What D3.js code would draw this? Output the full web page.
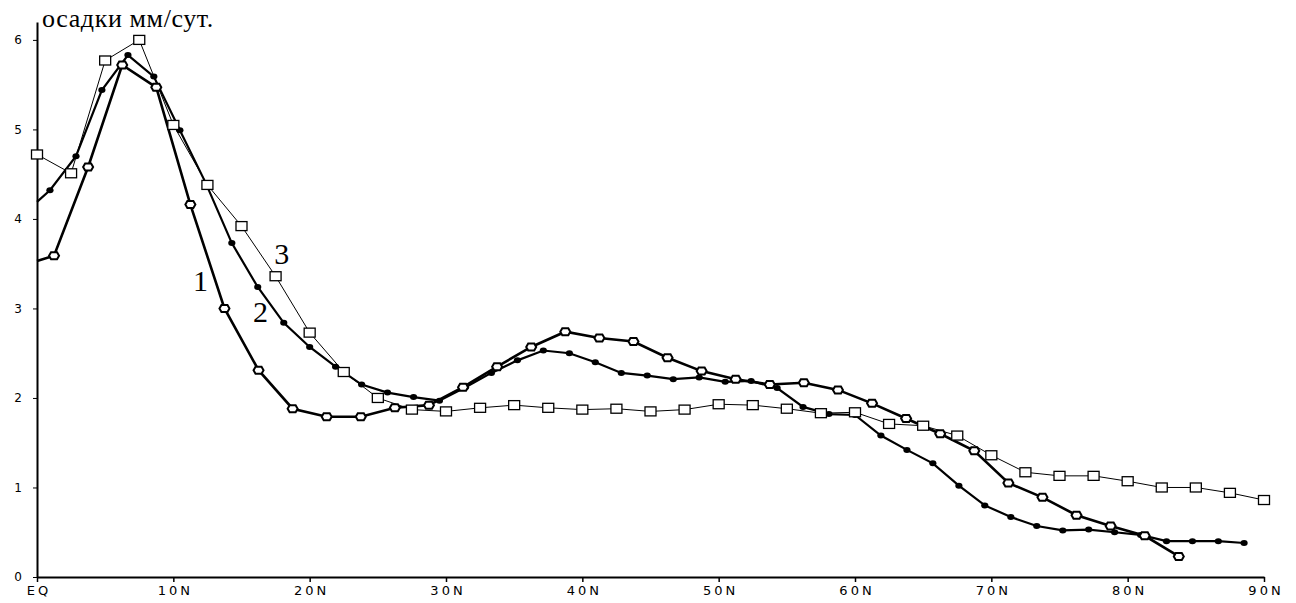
<!DOCTYPE html>
<html>
<head>
<meta charset="utf-8">
<script src="https://cdn.jsdelivr.net/npm/d3@7"></script>
<style>
  body { margin: 0; background: #fff; }
  .tick text { font-family: "DejaVu Sans", sans-serif; }
</style>
</head>
<body>
<div id="chart"></div>
<script>
// latitudes (deg N) and precipitation (mm/day)
const lat1 = [0, 1.25, 3.75, 6.25, 8.75, 11.25, 13.75, 16.25, 18.75, 21.25, 23.75, 26.25, 28.75,
  31.25, 33.75, 36.25, 38.75, 41.25, 43.75, 46.25, 48.75, 51.25, 53.75, 56.25, 58.75, 61.25,
  63.75, 66.25, 68.75, 71.25, 73.75, 76.25, 78.75, 81.25, 83.75];
const rain1 = [3.53, 3.59, 4.58, 5.72, 5.47, 4.16, 3.0, 2.31, 1.88, 1.79, 1.79, 1.89, 1.92,
  2.12, 2.35, 2.57, 2.74, 2.67, 2.63, 2.45, 2.30, 2.21, 2.15, 2.17, 2.09, 1.94,
  1.77, 1.60, 1.41, 1.05, 0.89, 0.69, 0.57, 0.46, 0.23];

const lat2 = [0, 0.95, 2.86, 4.76, 6.67, 8.57, 10.48, 12.38, 14.29, 16.19, 18.10, 20.0, 21.9,
  23.81, 25.71, 27.62, 29.52, 31.43, 33.33, 35.24, 37.14, 39.05, 40.95, 42.86, 44.76, 46.67,
  48.57, 50.48, 52.38, 54.29, 56.19, 58.09, 60.0, 61.9, 63.81, 65.71, 67.62, 69.52, 71.43,
  73.33, 75.24, 77.14, 79.04, 80.95, 82.85, 84.75, 86.65, 88.54];
const rain2 = [4.19, 4.32, 4.70, 5.44, 5.83, 5.59, 4.99, 4.40, 3.73, 3.24, 2.84, 2.57, 2.35,
  2.15, 2.06, 2.01, 1.97, 2.12, 2.28, 2.42, 2.53, 2.50, 2.40, 2.28, 2.25, 2.21,
  2.23, 2.18, 2.19, 2.11, 1.90, 1.82, 1.81, 1.58, 1.42, 1.27, 1.02, 0.80, 0.67,
  0.57, 0.52, 0.53, 0.50, 0.47, 0.40, 0.40, 0.40, 0.38];

const lat3 = [0, 2.5, 5, 7.5, 10, 12.5, 15, 17.5, 20, 22.5, 25, 27.5, 30, 32.5, 35, 37.5, 40,
  42.5, 45, 47.5, 50, 52.5, 55, 57.5, 60, 62.5, 65, 67.5, 70, 72.5, 75, 77.5, 80, 82.5, 85,
  87.5, 90];
const rain3 = [4.72, 4.51, 5.77, 6.0, 5.05, 4.38, 3.92, 3.36, 2.73, 2.29, 2.0, 1.87, 1.85,
  1.89, 1.92, 1.89, 1.87, 1.88, 1.85, 1.87, 1.93, 1.92, 1.88, 1.83, 1.84, 1.71, 1.69,
  1.58, 1.36, 1.17, 1.13, 1.13, 1.07, 1.0, 1.0, 0.94, 0.86];

const xTicks = [0, 10, 20, 30, 40, 50, 60, 70, 80, 90];
const yTicks = [0, 1, 2, 3, 4, 5, 6];
const curveLabels = [
  { name: "1", lat: 12.0, value: 3.2 },
  { name: "2", lat: 16.4, value: 2.85 },
  { name: "3", lat: 17.95, value: 3.5 }
];

const WIDTH = 1296, HEIGHT = 603;

const svg = d3.select("#chart")
  .append("svg")
  .attr("width", WIDTH)
  .attr("height", HEIGHT)
  .style("background", "#fff");

const x = d3.scaleLinear().domain([0, 90]).range([37, 1264]);
const y = d3.scaleLinear().domain([0, 6.2]).range([577, 22]);

// axes
svg.append("g")
  .attr("transform", `translate(0, ${y(0)})`)
  .call(d3.axisBottom(x).tickValues(xTicks).tickSize(5).tickSizeOuter(0)
    .tickFormat(d => d === 0 ? "EQ" : d + "N"))
  .call(g => g.select(".domain").attr("stroke-width", 2))
  .call(g => g.selectAll(".tick line").attr("stroke-width", 1.5))
  .call(g => g.selectAll(".tick text")
    .attr("y", 9)
    .attr("dx", 1.5)
    .style("font-size", "13px")
    .style("letter-spacing", "3px"));

svg.append("g")
  .attr("transform", `translate(${x(0)}, 0)`)
  .call(d3.axisLeft(y).tickValues(yTicks).tickSize(4).tickSizeOuter(0).tickFormat(d3.format("d")))
  .call(g => g.select(".domain").attr("stroke-width", 2))
  .call(g => g.selectAll(".tick text")
    .attr("x", -15)
    .style("font-size", "12px"));

// y label
svg.append("text")
  .attr("x", 42)
  .attr("y", 27)
  .style("font-family", "'Liberation Serif', serif")
  .style("font-size", "26px")
  .style("letter-spacing", "0.6px")
  .text("осадки мм/сут.");

const line = d3.line().x(d => x(d[0])).y(d => y(d[1]));
const pts1 = lat1.map((d, i) => [d, rain1[i]]);
const pts2 = lat2.map((d, i) => [d, rain2[i]]);
const pts3 = lat3.map((d, i) => [d, rain3[i]]);

// lines
svg.append("path").datum(pts3).attr("d", line)
  .attr("fill", "none").attr("stroke", "#000").attr("stroke-width", 1);
svg.append("path").datum(pts2).attr("d", line)
  .attr("fill", "none").attr("stroke", "#000").attr("stroke-width", 2.2);
svg.append("path").datum(pts1).attr("d", line)
  .attr("fill", "none").attr("stroke", "#000").attr("stroke-width", 2.6);

// markers, series 2: small filled dots
svg.selectAll(".m2")
  .data(pts2.filter(d => d[0] > 0))
  .join("ellipse")
  .attr("class", "m2")
  .attr("cx", d => x(d[0]))
  .attr("cy", d => y(d[1]))
  .attr("rx", 3.6)
  .attr("ry", 3)
  .attr("fill", "#000");

// series 3: open squares
svg.selectAll(".m3")
  .data(pts3)
  .join("rect")
  .attr("class", "m3")
  .attr("x", d => x(d[0]) - 5.5)
  .attr("y", d => y(d[1]) - 4.5)
  .attr("width", 11)
  .attr("height", 9)
  .attr("fill", "#fff")
  .attr("stroke", "#000")
  .attr("stroke-width", 1.3);

// series 1: open hexagons
const hex = "M-5,0L-3,-3.5L3,-3.5L5,0L3,3.5L-3,3.5Z";
svg.selectAll(".m1")
  .data(pts1.filter(d => d[0] > 0))
  .join("path")
  .attr("class", "m1")
  .attr("transform", d => `translate(${x(d[0])},${y(d[1])})`)
  .attr("d", hex)
  .attr("fill", "#fff")
  .attr("stroke", "#000")
  .attr("stroke-width", 2);

// curve numbers
svg.selectAll(".lab")
  .data(curveLabels)
  .join("text")
  .attr("class", "lab")
  .attr("x", d => x(d.lat))
  .attr("y", d => y(d.value))
  .attr("text-anchor", "middle")
  .style("font-family", "'Liberation Serif', serif")
  .style("font-size", "30px")
  .text(d => d.name);
</script>
</body>
</html>
